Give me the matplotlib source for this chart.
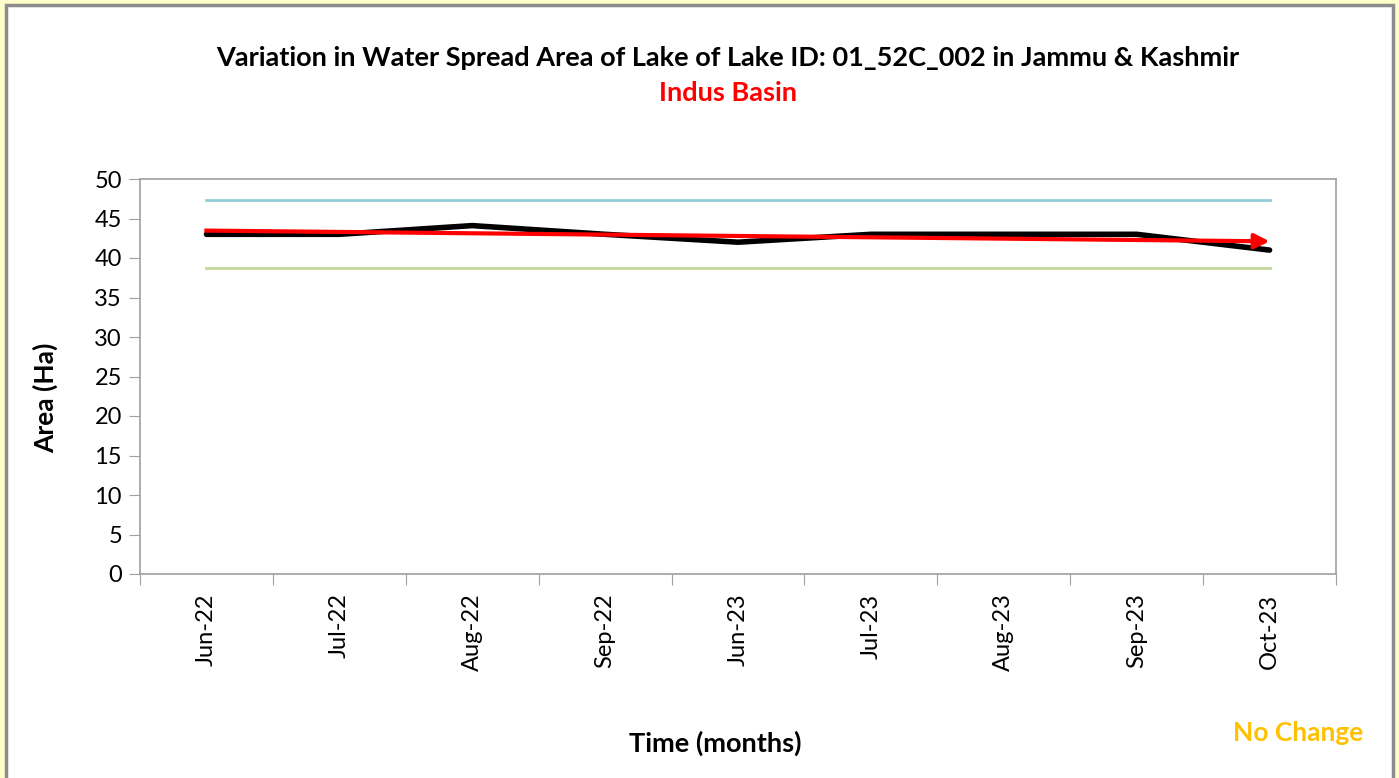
import numpy as np
import matplotlib.pyplot as plt
from matplotlib.patches import Rectangle

# ----------------------------
# Data
# ----------------------------
months = ["Jun-22", "Jul-22", "Aug-22", "Sep-22", "Jun-23", "Jul-23", "Aug-23", "Sep-23", "Oct-23"]
area = [43.0, 43.0, 44.1, 43.0, 42.0, 43.0, 43.0, 43.0, 41.0]
upper_limit = 47.35
lower_limit = 38.75

x = np.arange(len(months))
trend = np.poly1d(np.polyfit(x, area, 1))(x)

plt.rcParams['font.family'] = ['Lato', 'DejaVu Sans']

W, H = 1399, 778
fig = plt.figure(figsize=(W / 100, H / 100), dpi=100)
fig.patch.set_facecolor('#FFFFCC')

# outer chart frame
fig.patches.append(Rectangle((6 / W, -0.05), (1393 - 6) / W, 1.05 - 5 / H,
                             transform=fig.transFigure, facecolor='white',
                             edgecolor='#8c8c8c', linewidth=2.5, zorder=-5))

ax = fig.add_axes([140 / W, 1 - 574 / H, (1336 - 140) / W, (574 - 179) / H])
ax.set_zorder(2)

ax.plot(x, [upper_limit] * len(x), color='#92CDDC', linewidth=2)
ax.plot(x, [lower_limit] * len(x), color='#C3D69B', linewidth=2)
ax.plot(x, area, color='black', linewidth=4, solid_capstyle='round', solid_joinstyle='round')
ax.plot(x[:-1], trend[:-1], color='red', linewidth=3)
ax.annotate('', xy=(x[-1], trend[-1]), xytext=(x[-2], trend[-2]),
            arrowprops=dict(arrowstyle='-|>', color='red', lw=3, mutation_scale=22,
                            shrinkA=0, shrinkB=0))

ax.set_xlim(-0.5, len(months) - 0.5)
ax.set_ylim(0, 50)
ax.set_yticks(np.arange(0, 51, 5))
ax.set_xticks(np.arange(len(months) + 1) - 0.5)
ax.set_xticklabels([])
ax.set_xticks(x, minor=True)
ax.set_xticklabels(months, minor=True, rotation=90)
ax.tick_params(axis='x', which='minor', length=0, pad=14, labelsize=17)
ax.tick_params(axis='x', which='major', length=8, color='#a0a0a0')
ax.tick_params(axis='y', length=8, color='#a0a0a0', labelsize=17, pad=5)

for s in ax.spines.values():
    s.set_color('#a0a0a0')
    s.set_linewidth(1.2)

ax.set_ylabel('Area (Ha)', fontsize=19, fontweight='bold', va='center')
ax.yaxis.set_label_coords(-0.0794, 0.4456)
fig.text(715 / W, 1 - 743 / H, 'Time (months)', fontsize=19.5, fontweight='bold',
         ha='center', va='center')

fig.text(728 / W, 1 - 58 / H,
         'Variation in Water Spread Area of Lake of Lake ID: 01_52C_002 in Jammu & Kashmir',
         fontsize=19.5, fontweight='bold', ha='center', va='center')
fig.text(728 / W, 1 - 93 / H, 'Indus Basin', fontsize=19.5, fontweight='bold',
         color='red', ha='center', va='center')
fig.text(1298 / W, 1 - 733 / H, 'No Change', fontsize=19, fontweight='bold',
         color='#FFC000', ha='center', va='center')

fig.savefig('out.png', dpi=100, facecolor=fig.get_facecolor())
